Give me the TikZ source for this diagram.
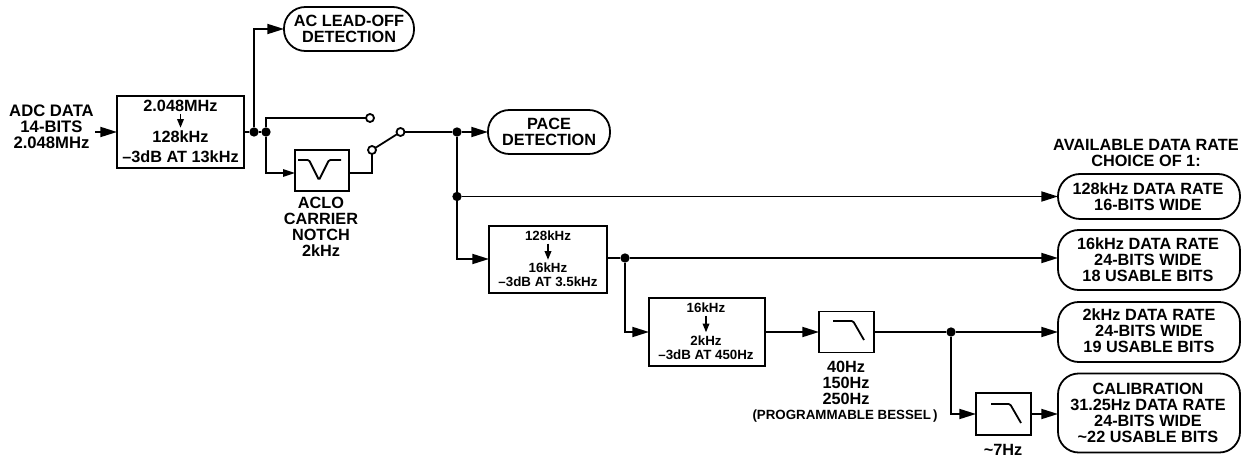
\documentclass[tikz,border=0pt]{standalone}
\usepackage{fontspec}
\setmainfont{Liberation Sans}
\usetikzlibrary{arrows.meta}
\tikzset{
  lbl/.style={font=\bfseries\fontsize{12.2}{12}\selectfont,align=center,inner sep=0,outer sep=0},
  lblsm/.style={font=\bfseries\fontsize{10}{10.5}\selectfont,align=center,inner sep=0,outer sep=0},
  wire/.style={line width=1.35pt},
  arr/.style={wire,-{Triangle[length=12.5pt,width=7.5pt]}},
  arrsm/.style={wire,-{Triangle[length=9pt,width=5.5pt]}},
  arrin/.style={line width=1pt,-{Triangle[length=6.5pt,width=5pt]}},
  blockbox/.style={draw,line width=1.35pt,inner sep=0,outer sep=0,minimum width=#1},
  pill/.style={draw,line width=1.35pt,inner sep=0,outer sep=0,rounded corners=15.5pt},
  dot/.style={circle,fill=black,inner sep=0,outer sep=0,minimum size=7pt},
  contact/.style={circle,draw,fill=white,line width=1.35pt,inner sep=0,outer sep=0,minimum size=6pt},
  glyph/.style={line width=1.35pt,rounded corners=1pt},
}
\begin{document}
\begin{tikzpicture}[x=0.75pt,y=-0.75pt]
\useasboundingbox (0,0) rectangle (1252,459);
% blocks
\node[blockbox=95.25pt,minimum height=54pt] (box1) at (180.5,132) {};
\node[blockbox=88.5pt,minimum height=50.25pt] (box2) at (548,259.5) {};
\node[blockbox=87pt,minimum height=51pt] (box3) at (707,332) {};
\node[blockbox=40.5pt,minimum height=30.75pt] (notch) at (322,170.5) {};
\node[blockbox=41.25pt,minimum height=30.75pt] (lp1) at (846.5,332) {};
\node[blockbox=41.25pt,minimum height=31.5pt] (lp2) at (1003.5,414) {};
% pills
\node[pill,rounded corners=16pt,minimum width=97.5pt,minimum height=33pt] (ac) at (349,29) {};
\node[lbl] at (349,29) {AC LEAD-OFF\\DETECTION};
\node[pill,rounded corners=16pt,minimum width=91.5pt,minimum height=33pt] (pace) at (549,132) {};
\node[lbl] at (549,132) {PACE\\DETECTION};
\node[pill,rounded corners=16.5pt,minimum width=136.5pt,minimum height=33.75pt] (p128) at (1149,196.5) {};
\node[lbl] at (1148,196.5) {128kHz DATA RATE\\16-BITS WIDE};
\node[pill,minimum width=136.5pt,minimum height=45pt] (p16) at (1149,260) {};
\node[lbl] at (1148,259.5) {16kHz DATA RATE\\24-BITS WIDE\\18 USABLE BITS};
\node[pill,minimum width=136.5pt,minimum height=45pt] (p2) at (1149,332) {};
\node[lbl] at (1149,331) {2kHz DATA RATE\\24-BITS WIDE\\19 USABLE BITS};
\node[pill,minimum width=136.5pt,minimum height=59.25pt] (cal) at (1149,413) {};
\node[lbl] at (1148,412.5) {CALIBRATION\\31.25Hz DATA RATE\\24-BITS WIDE\\\textasciitilde 22 USABLE BITS};
% free labels
\node[lbl,font=\bfseries\fontsize{12.5}{12}\selectfont] (adc) at (51.5,126.5) {ADC DATA\\14-BITS\\2.048MHz};
\node[lbl] (aclo) at (321,226.5) {ACLO\\CARRIER\\NOTCH\\2kHz};
\node[lbl] (fc) at (846,382.5) {40Hz\\150Hz\\250Hz};
\node[lblsm] (prog) at (845,416.5) {(PROGRAMMABLE BESSEL\kern1.5pt)};
\node[lbl] (seven) at (1003,450) {\textasciitilde 7Hz};
\node[lbl] (avail) at (1146,153) {AVAILABLE DATA RATE\\CHOICE OF 1:};
% block texts
\node[lbl] (b1a) at (180.5,106) {2.048MHz};
\node[lbl] (b1b) at (180.5,147) {128kHz\\[3pt]\textendash 3dB AT 13kHz};
\node[lblsm] (b2a) at (548,236) {128kHz};
\node[lblsm] (b2b) at (548,275) {16kHz\\\textendash 3dB AT 3.5kHz};
\node[lblsm] (b3a) at (706,308) {16kHz};
\node[lblsm] (b3b) at (706,347.5) {2kHz\\\textendash 3dB AT 450Hz};
\draw[arrin] ([yshift=-1.5pt]b1a.south) -- ([yshift=2.5pt]b1b.north);
\draw[arrin] ([yshift=-2pt]b2a.south) -- ([yshift=2.5pt]b2b.north);
\draw[arrin] ([yshift=-2pt]b3a.south) -- ([yshift=2.5pt]b3b.north);
% junctions and contacts
\node[dot] (j1) at (254,132) {};
\node[dot] (j2) at (266,132) {};
\node[dot] (j3) at (457,132) {};
\node[dot] (j6) at (457,196.5) {};
\node[dot] (j4) at (625,258) {};
\node[dot] (j5) at (951,332) {};
\node[contact] (c1) at (370,118) {};
\node[contact] (c2) at (372,150) {};
\node[contact] (c3) at (400.5,132) {};
\coordinate (adcin) at (95,132);
\coordinate (nin) at (295,173);
\coordinate (nout) at (349,173);
\coordinate (p16in) at (1058,258);
\coordinate (box2in) at (489,259);
% connectors
\draw[arr] (adcin) -- (box1.west);
\draw[wire] (box1.east) -- (j1) -- (j2);
\draw[arr] (j1) |- (ac.west);
\draw[wire] (j2) |- (c1.west);
\draw[arrsm] (j2) |- (nin);
\draw[wire] (nout) -| (c2.south);
\draw[wire] (c2) -- (c3);
\draw[wire] (c3) -- (j3);
\draw[arr] (j3) -- (pace.west);
\draw[wire] (j3) -- (j6);
\draw[arr] (j6) -- (p128.west);
\draw[arr] (j6) |- (box2in);
\draw[wire] (j4 -| box2.east) -- (j4);
\draw[arr] (j4) -- (p16in);
\draw[arr] (j4) |- (box3.west);
\draw[arr] (box3.east) -- (lp1.west);
\draw[wire] (lp1.east) -- (j5);
\draw[arr] (j5) -- (p2.west);
\draw[arr] (j5) |- (lp2.west);
\draw[arr] (lp2.east) -- (lp2.east -| cal.west);
% filter glyphs
\draw[glyph] (298,160) -- (309,160) -- (319,180) -- (329,160) -- (341,160);
\draw[glyph] (833,321) -- (853,321) -- (864,340);
\draw[glyph] (991,404) -- (1010,404) -- (1021,423);
\end{tikzpicture}
\end{document}
